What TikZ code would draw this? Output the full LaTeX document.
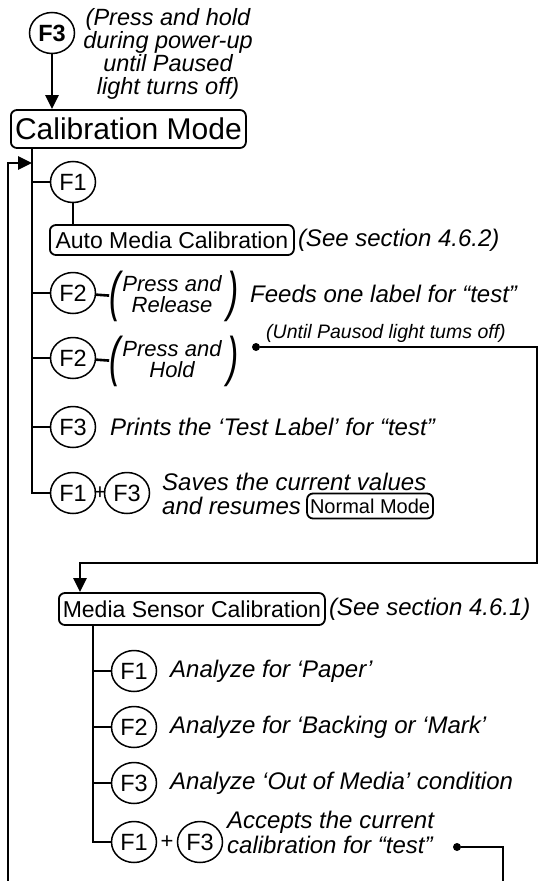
\documentclass[tikz,border=0pt]{standalone}
\usepackage{fontspec}
\setmainfont{Liberation Sans}
\usetikzlibrary{shapes.geometric,arrows.meta,positioning}

\tikzset{
  wire/.style={line width=2.6pt},
  arrowwire/.style={wire,-{Triangle[width=13pt,length=14pt]}},
  key/.style={draw,ellipse,line width=1.5pt,minimum width=45pt,minimum height=41pt,inner sep=0pt,font=\fontsize{23.5}{23.5}\selectfont},
  modebox/.style={draw,rounded corners=6pt,line width=1.8pt,inner xsep=3pt,inner ysep=0pt},
  note/.style={font=\fontsize{24}{24}\selectfont\itshape,inner sep=0pt},
  paren/.style={font=\fontsize{32}{32}\selectfont\itshape,inner sep=0pt},
  pair/.style={font=\fontsize{22}{20.5}\selectfont\itshape,align=center,inner sep=0pt},
  plus/.style={font=\fontsize{22}{22}\selectfont,inner sep=0pt},
  dot/.style={circle,fill,inner sep=0pt,minimum size=8pt},
}
\newcommand{\tallparen}[1]{\scalebox{1.05}[1.7]{#1}}

\begin{document}
\begin{tikzpicture}[x=1pt,y=-1pt]
    \useasboundingbox (0,0) rectangle (558,881);

    % entering calibration mode
    \node[key,font=\fontsize{23.5}{23.5}\selectfont\bfseries] (f3top) at (52,33) {F3};
    \node[note,align=center,font=\fontsize{23.5}{23}\selectfont\itshape] (powerup) at (168,54) {(Press and hold\\during power-up\\until Paused\\light turns off)};
    \node[modebox,anchor=west,minimum width=235pt,minimum height=38pt,font=\fontsize{30}{30}\selectfont] (calmode) at (10,129) {Calibration Mode};
    \draw[arrowwire] (f3top) -- (f3top |- calmode.north);

    \coordinate (trunk) at (32,148);
    \coordinate (loopin) at (32,163);
    \coordinate (loopbot) at (8,881);
    \draw[arrowwire] (loopbot) |- (loopin);

    % F1: auto media calibration
    \node[key] (k1) at (73,182) {F1};
    \node[modebox,anchor=west,minimum width=244pt,minimum height=30pt,font=\fontsize{23}{23}\selectfont] (automc) at (49,240) {Auto Media Calibration};
    \node[note,anchor=west] (autosee) at ([xshift=3pt]automc.east) {(See section 4.6.2)};
    \draw[wire] (k1) -- (k1 |- automc.north);

    % F2 press and release
    \node[key] (k2) at (73,293) {F2};
    \node[paren] (k2open) at (115,296) {\tallparen{(}};
    \node[pair] (k2what) at (172,294) {Press and\\Release};
    \node[paren] (k2close) at (233,296) {\tallparen{)}};
    \node[note,anchor=west] (feed) at (250,294) {Feeds one label for “test”};
    \draw[wire] (k2) -- (k2open);

    % F2 press and hold
    \node[key] (k3) at (73,358) {F2};
    \node[paren] (k3open) at (115,361) {\tallparen{(}};
    \node[pair] (k3what) at (172,359) {Press and\\Hold};
    \node[paren] (k3close) at (233,361) {\tallparen{)}};
    \node[dot] (k3dot) at (256,347) {};
    \node[note,anchor=south west,font=\fontsize{19.5}{19.5}\selectfont\itshape] (untilnote) at (266,343) {(Until Pausod light tums off)};
    \draw[wire] (k3) -- (k3open);

    % F3 test label
    \node[key] (k4) at (73,427) {F3};
    \node[note,anchor=west] (testlbl) at (110,427) {Prints the ‘Test Label’ for “test”};

    % F1+F3 save
    \node[key] (k5a) at (73,493) {F1};
    \node[plus] (k5plus) at (100,493) {+};
    \node[key] (k5b) at (127,493) {F3};
    \node[note,anchor=west] (save1) at (162,482) {Saves the current values};
    \node[note,anchor=west] (save2) at (162,506) {and resumes};
    \node[modebox,right=5pt of save2,minimum height=25pt,font=\fontsize{20}{20}\selectfont] (normal) {Normal Mode};

    \draw[wire] (trunk) |- (k5a);
    \foreach \k in {k1,k2,k3,k4}
        \draw[wire] (trunk |- \k) -- (\k);

    % media sensor calibration
    \node[modebox,anchor=west,minimum width=266pt,minimum height=32pt,font=\fontsize{23}{23}\selectfont] (media) at (58,609) {Media Sensor Calibration};
    \node[note,anchor=west] (mediasee) at ([xshift=3pt]media.east) {(See section 4.6.1)};
    \coordinate (hold) at (537,347);
    \coordinate (drop) at (80,563);
    \draw[arrowwire] (k3dot) -- (hold) |- (drop) -- (drop |- media.north);

    \coordinate (mtrunk) at (93,625);
    \node[key] (m1) at (134,671) {F1};
    \node[note,anchor=west] (paper) at (170,671) {Analyze for ‘Paper’};
    \node[key] (m2) at (134,727) {F2};
    \node[note,anchor=west] (backing) at (170,727) {Analyze for ‘Backing or ‘Mark’};
    \node[key] (m3) at (134,783) {F3};
    \node[note,anchor=west] (outmedia) at (170,783) {Analyze ‘Out of Media’ condition};
    \node[key] (m4a) at (134,842) {F1};
    \node[plus] (m4plus) at (167,842) {+};
    \node[key] (m4b) at (200,842) {F3};
    \node[note,anchor=west] (accept1) at (227,822) {Accepts the current};
    \node[note,anchor=west] (accept2) at (227,845) {calibration for “test”};
    \node[dot] (m4dot) at (457,847) {};
    \coordinate (m4out) at (503,881);
    \draw[wire] (m4dot) -| (m4out);

    \draw[wire] (mtrunk) |- (m4a);
    \foreach \k in {m1,m2,m3}
        \draw[wire] (mtrunk |- \k) -- (\k);

\end{tikzpicture}
\end{document}
